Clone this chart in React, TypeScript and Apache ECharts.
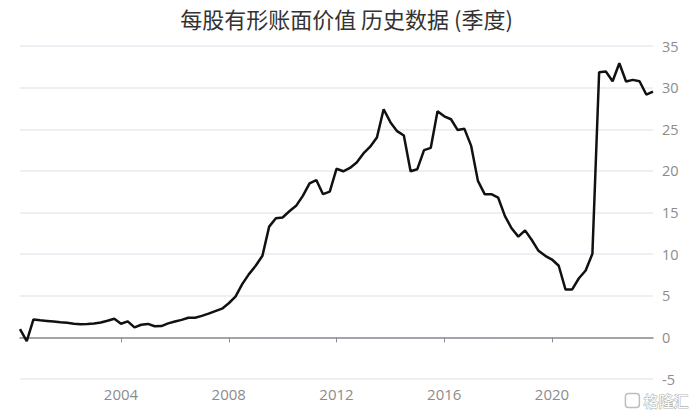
import React, { useEffect, useRef } from "react";
import * as echarts from "echarts";

const TITLE = "每股有形账面价值 历史数据 (季度)";
const START_YEAR = 2000;
const START_QUARTER = 1;
const VALUES = [
  1.0, -0.45, 2.16, 2.05, 1.98, 1.9, 1.82, 1.75, 1.65, 1.58,
  1.62, 1.68, 1.78, 2.0, 2.24, 1.64, 1.92, 1.2, 1.52, 1.62,
  1.34, 1.36, 1.68, 1.9, 2.1, 2.36, 2.36, 2.58, 2.85, 3.15,
  3.45, 4.1, 4.9, 6.4, 7.6, 8.6, 9.8, 13.3, 14.3, 14.4,
  15.15, 15.8, 17.0, 18.5, 18.9, 17.2, 17.5, 20.25, 19.95, 20.35,
  21.0, 22.1, 22.9, 24.0, 27.4, 25.85, 24.77, 24.25, 19.96, 20.2,
  22.5, 22.77, 27.17, 26.55, 26.2, 24.9, 25.05, 23.0, 18.8, 17.2,
  17.2, 16.8, 14.6, 13.1, 12.1, 12.85, 11.7, 10.4, 9.8, 9.35,
  8.6, 5.76, 5.76, 7.1, 8.04, 10.04, 31.85, 31.93, 30.77, 32.93,
  30.73, 30.93, 30.77, 29.17, 29.53,
];
const X_TICK_YEARS = [2004, 2008, 2012, 2016, 2020];
const Y_MIN = -5;
const Y_MAX = 35;
const Y_STEP = 5;

// quarter-end position expressed in fractional years
function quarterEnd(i: number): number {
  const q = START_QUARTER - 1 + i;
  const y = START_YEAR + Math.floor(q / 4);
  return y + ((q % 4) + 1) / 4;
}

export default function App() {
  const ref = useRef<HTMLDivElement>(null);
  useEffect(() => {
    if (!ref.current) return;
    const chart = echarts.init(ref.current, undefined, { renderer: "svg" });
    const data = VALUES.map((v, i) => [quarterEnd(i), v]);
    chart.setOption({
      animation: false,
      backgroundColor: "#ffffff",
      title: {
        text: TITLE,
        left: "center",
        top: 2,
        textStyle: {
          fontSize: 22,
          fontWeight: "normal",
          color: "#333333",
          fontFamily: "'Noto Sans CJK SC', sans-serif",
        },
      },
      grid: {
        left: 20,
        right: 40,
        top: 46,
        bottom: 31,
        containLabel: false,
        outerBoundsMode: "none",
      },
      xAxis: {
        type: "value",
        min: data[0][0],
        max: data[data.length - 1][0],
        axisLine: { show: true, onZero: true, lineStyle: { color: "#8a8d93", width: 1.5 } },
        axisTick: { show: true, length: 5, customValues: X_TICK_YEARS, lineStyle: { color: "#8a8d93" } },
        axisLabel: {
          customValues: X_TICK_YEARS,
          margin: 7,
          color: "#8c8c8c",
          fontSize: 15,
          fontFamily: "'Open Sans', sans-serif",
          formatter: (v: number) => String(Math.round(v)),
        },
        splitLine: { show: false },
      },
      yAxis: {
        type: "value",
        position: "right",
        min: Y_MIN,
        max: Y_MAX,
        interval: Y_STEP,
        axisLine: { show: false },
        axisTick: { show: false },
        axisLabel: {
          margin: 9,
          color: "#8c8c8c",
          fontSize: 14.5,
          fontFamily: "'Open Sans', sans-serif",
        },
        splitLine: { lineStyle: { color: "#e6eaf0", width: 1.5 } },
      },
      series: [
        {
          type: "line",
          data,
          showSymbol: false,
          symbol: "none",
          lineStyle: { color: "#111111", width: 2.5 },
        },
      ],
      graphic: [
        {
          type: "group",
          right: 4,
          bottom: 0,
          children: [
            {
              type: "rect",
              shape: { x: 0, y: 1, width: 14, height: 14, r: 3 },
              style: { fill: "none", stroke: "#bdbdbd", lineWidth: 1.5 },
            },
            {
              type: "text",
              x: 18,
              y: 0,
              style: {
                text: "格隆汇",
                fontSize: 15,
                fill: "#ffffff",
                stroke: "#b5b5b5",
                lineWidth: 1.2,
                fontFamily: "'Noto Sans CJK SC', sans-serif",
              },
            },
          ],
        },
      ],
    });
    return () => chart.dispose();
  }, []);
  return (
    <div
      ref={ref}
      style={{ position: "absolute", left: 0, top: 0, width: 693, height: 410 }}
    />
  );
}
